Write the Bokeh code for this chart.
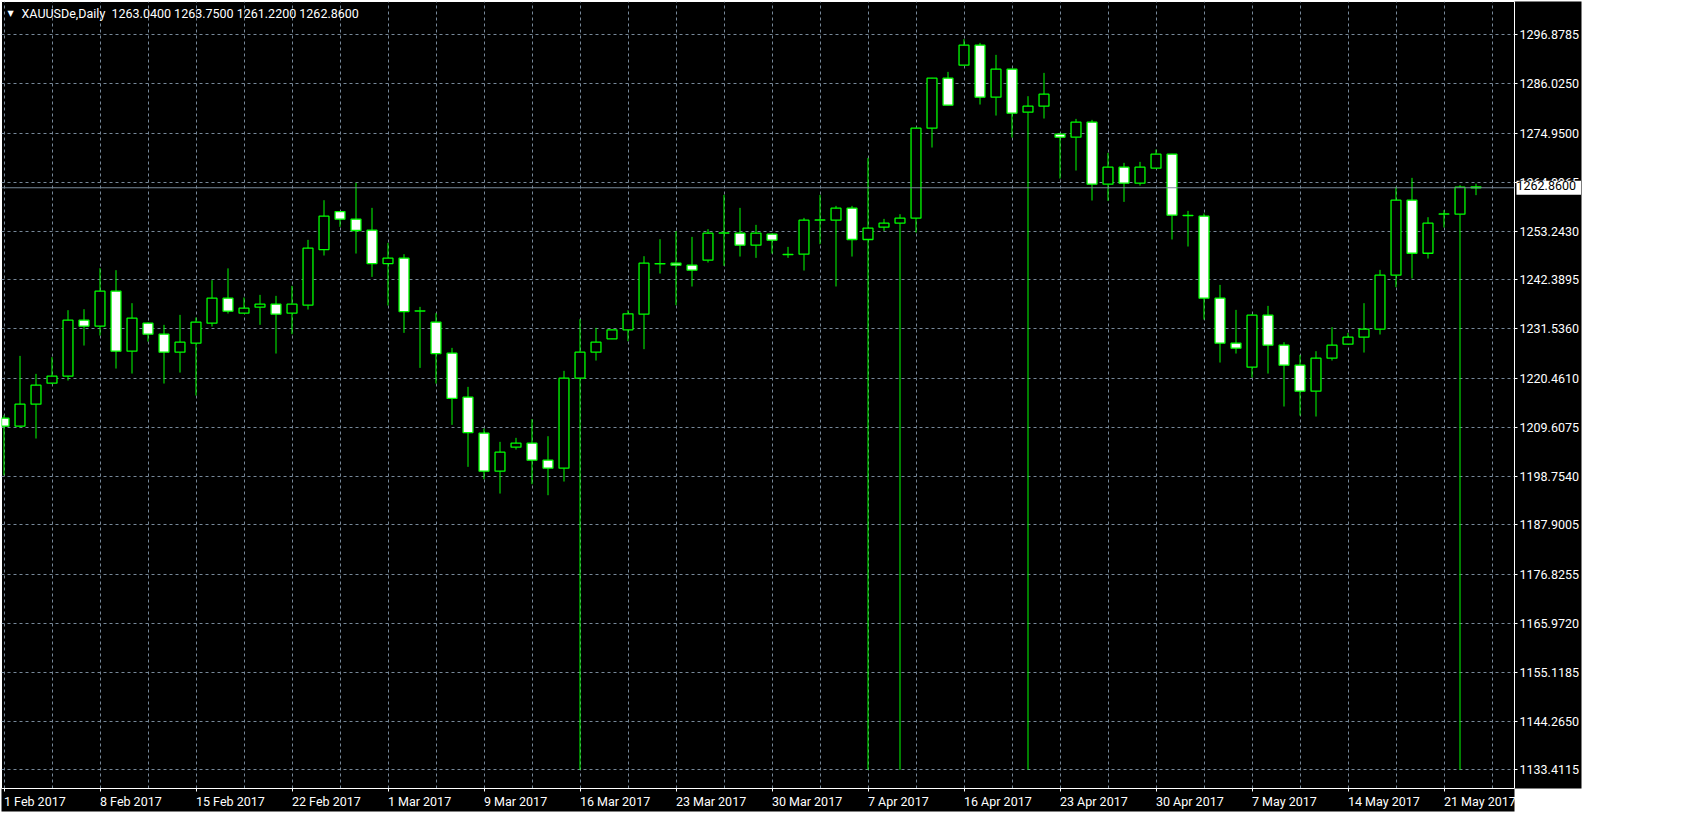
from bokeh.plotting import figure
from bokeh.models import (Range1d, FixedTicker, PrintfTickFormatter,
                          Span, Label, ColumnDataSource)
from bokeh.embed import file_html
from bokeh.resources import INLINE

# ---------------- data (XAUUSDe, Daily, 6 bars per week) ----------------
opens = [1211.61, 1209.83, 1214.72, 1219.39, 1220.95, 1233.41, 1232.07, 1239.85, 1226.51, 1232.74,
         1230.29, 1226.29, 1228.29, 1232.74, 1238.30, 1234.96, 1236.30, 1236.97, 1234.96, 1236.74,
         1249.12, 1257.57, 1255.87, 1253.42, 1246.01, 1247.20, 1235.45, 1232.96, 1226.07, 1216.28,
         1208.27, 1199.82, 1205.16, 1206.05, 1202.27, 1200.49, 1220.51, 1226.29, 1229.27, 1231.27,
         1234.74, 1245.93, 1246.08, 1245.64, 1246.75, 1252.75, 1252.75, 1250.09, 1252.53, 1248.01,
         1248.08, 1255.65, 1255.65, 1258.31, 1251.35, 1254.09, 1254.98, 1256.09, 1276.11, 1287.23,
         1290.12, 1294.57, 1283.00, 1289.23, 1279.66, 1281.00, 1274.77, 1274.10, 1277.44, 1263.65,
         1267.43, 1263.87, 1267.21, 1270.32, 1256.68, 1256.53, 1238.30, 1228.29, 1222.95, 1234.52,
         1227.84, 1223.40, 1217.61, 1224.95, 1228.07, 1229.62, 1231.40, 1243.41, 1260.09, 1248.30,
         1256.98, 1256.98, 1263.04]
highs = [1212.28, 1225.47, 1221.47, 1225.18, 1235.63, 1235.85, 1244.97, 1244.53, 1237.19, 1232.90,
         1232.37, 1234.59, 1234.00, 1242.30, 1244.93, 1238.45, 1239.04, 1238.82, 1241.04, 1251.27,
         1260.09, 1257.65, 1263.95, 1258.39, 1250.60, 1248.08, 1236.37, 1234.96, 1227.25, 1218.58,
         1209.31, 1206.35, 1207.24, 1211.39, 1207.60, 1222.14, 1233.63, 1231.70, 1231.35, 1235.63,
         1247.64, 1251.42, 1253.20, 1251.94, 1253.64, 1261.28, 1258.39, 1254.61, 1252.70, 1249.71,
         1256.16, 1261.28, 1258.83, 1258.83, 1269.51, 1255.94, 1256.98, 1276.20, 1287.30, 1288.63,
         1295.90, 1295.08, 1292.42, 1289.30, 1283.22, 1288.41, 1275.07, 1278.18, 1277.96, 1270.62,
         1268.40, 1268.62, 1271.36, 1270.40, 1257.72, 1257.13, 1241.26, 1235.70, 1234.74, 1236.59,
         1228.51, 1225.69, 1226.51, 1231.85, 1230.59, 1237.19, 1244.60, 1263.06, 1265.06, 1256.31,
         1257.87, 1263.43, 1263.75]
lows = [1198.90, 1209.53, 1207.09, 1219.17, 1219.99, 1227.77, 1229.99, 1222.65, 1221.54, 1228.66,
        1219.32, 1221.76, 1216.65, 1232.00, 1234.89, 1234.90, 1232.37, 1225.99, 1230.29, 1235.78,
        1247.79, 1254.16, 1248.23, 1243.04, 1236.67, 1230.59, 1222.80, 1219.32, 1210.13, 1200.79,
        1198.04, 1194.85, 1204.64, 1196.93, 1194.48, 1197.52, 1133.41, 1224.43, 1229.20, 1228.74,
        1226.96, 1243.78, 1236.74, 1240.90, 1246.23, 1245.49, 1247.56, 1247.27, 1248.23, 1247.27,
        1244.45, 1250.31, 1240.90, 1247.56, 1133.41, 1253.27, 1133.41, 1252.90, 1271.81, 1281.20,
        1290.10, 1281.37, 1278.92, 1274.03, 1133.41, 1278.26, 1264.91, 1266.69, 1260.02, 1259.95,
        1259.72, 1263.35, 1267.20, 1251.35, 1249.79, 1233.55, 1223.99, 1225.99, 1220.65, 1221.54,
        1214.21, 1212.20, 1211.98, 1224.43, 1228.00, 1226.21, 1230.22, 1240.75, 1242.67, 1247.12,
        1254.01, 1133.41, 1261.22]
closes = [1209.83, 1214.72, 1218.95, 1220.95, 1233.41, 1232.07, 1239.85, 1226.51, 1233.85, 1230.29,
          1226.29, 1228.51, 1232.96, 1238.30, 1235.41, 1236.07, 1236.97, 1234.74, 1236.97, 1249.42,
          1256.53, 1255.87, 1253.35, 1246.01, 1247.20, 1235.33, 1235.50, 1225.99, 1216.00, 1208.42,
          1199.82, 1204.05, 1206.05, 1202.27, 1200.49, 1220.51, 1226.29, 1228.51, 1231.27, 1234.83,
          1246.08, 1246.00, 1245.64, 1244.53, 1252.75, 1252.80, 1250.09, 1252.75, 1251.20, 1248.05,
          1255.65, 1255.70, 1258.31, 1251.35, 1253.87, 1254.98, 1256.09, 1276.11, 1287.23, 1281.22,
          1294.57, 1283.00, 1289.23, 1279.44, 1281.00, 1283.67, 1274.10, 1277.44, 1263.65, 1267.43,
          1263.87, 1267.43, 1270.32, 1256.76, 1256.72, 1238.30, 1228.29, 1227.18, 1234.52, 1227.84,
          1223.40, 1217.61, 1224.95, 1227.84, 1229.62, 1231.40, 1243.41, 1260.09, 1248.30, 1254.98,
          1257.02, 1262.98, 1262.86]

# date labels, one every 6 bars (bar 0, 6, 12, ...)
date_labels = ["1 Feb 2017", "8 Feb 2017", "15 Feb 2017", "22 Feb 2017", "1 Mar 2017",
               "9 Mar 2017", "16 Mar 2017", "23 Mar 2017", "30 Mar 2017", "7 Apr 2017",
               "16 Apr 2017", "23 Apr 2017", "30 Apr 2017", "7 May 2017", "14 May 2017",
               "21 May 2017"]
label_step = 6
grid_step = 3

price_ticks = [1296.8785, 1286.0250, 1274.9500, 1264.0965, 1253.2430, 1242.3895, 1231.5360,
               1220.4610, 1209.6075, 1198.7540, 1187.9005, 1176.8255, 1165.9720, 1155.1185,
               1144.2650, 1133.4115]

symbol = "XAUUSDe,Daily"

# ---------------- styling / layout constants ----------------
FONT = "Roboto"
FS_PX = 12.5
FS = f"{FS_PX}px"
GREEN = "#00ff00"
GRID = "#778899"

BL, BT, BB = 1, 1, 25
FRAME_W, FRAME_H = 1513, 787
px_per_bar = 16.0
px_per_unit = 4.4964

x0 = -(3.5 - BL) / px_per_bar
x1 = x0 + FRAME_W / px_per_bar
y1 = 1296.8785 + (34.3 - BT) / px_per_unit
y0 = y1 - FRAME_H / px_per_unit


def dx(abs_x):
    return x0 + (abs_x - BL) / px_per_bar


def dy(abs_y):
    return y1 - (abs_y - BT) / px_per_unit


# approximate Roboto advance widths (units per 2048 em) to left-align date labels
ADV = {" ": 507, "F": 1117, "e": 1084, "b": 1147, "M": 1762, "a": 1114, "r": 692,
       "A": 1336, "p": 1147, "y": 969}


def text_w(s):
    return sum(ADV.get(ch, 1150) for ch in s) * FS_PX / 2048.0


n = len(opens)
xs = list(range(n))
tops = [max(o, c) for o, c in zip(opens, closes)]
bots = [min(o, c) for o, c in zip(opens, closes)]
fills = ["black" if c >= o else "white" for o, c in zip(opens, closes)]

src = ColumnDataSource(dict(x=xs, o=opens, h=highs, l=lows, c=closes,
                            top=tops, bottom=bots, fill=fills))

p = figure(frame_width=FRAME_W, frame_height=FRAME_H, output_backend="svg",
           toolbar_location=None,
           x_range=Range1d(x0, x1), y_range=Range1d(y0, y1),
           x_axis_location="below", y_axis_location="right",
           min_border_left=BL, min_border_top=BT, min_border_right=0,
           min_border_bottom=BB)
p.background_fill_color = "black"
p.outline_line_color = "white"
p.outline_line_width = 1

# grid
p.xgrid.ticker = FixedTicker(ticks=list(range(0, int(x1) + 1, grid_step)))
p.xgrid.grid_line_color = GRID
p.xgrid.grid_line_dash = "3 3"
p.ygrid.grid_line_color = GRID
p.ygrid.grid_line_dash = "3 3"

# x axis: tick marks (minor) at the labelled bars, label text starting at its tick
tick_pos = [i * label_step for i in range(len(date_labels))]
label_pos = [t + text_w(s) / 2.0 / px_per_bar for t, s in zip(tick_pos, date_labels)]
xa = p.xaxis[0]
xa.ticker = FixedTicker(ticks=label_pos, minor_ticks=tick_pos)
xa.major_label_overrides = {lp: s for lp, s in zip(label_pos, date_labels)}
xa.major_tick_line_color = None
xa.minor_tick_line_color = "white"
xa.minor_tick_in = 0
xa.minor_tick_out = 3
xa.major_tick_in = 0
xa.major_tick_out = 3
xa.major_label_standoff = 2

# y axis
ya = p.yaxis[0]
ya.ticker = FixedTicker(ticks=price_ticks, minor_ticks=[])
ya.formatter = PrintfTickFormatter(format="%.4f")
ya.major_tick_line_color = "white"
ya.minor_tick_line_color = None
ya.major_tick_in = 0
ya.major_tick_out = 3
ya.major_label_standoff = 2

for ax in (xa, ya):
    ax.axis_line_color = "white"
    ax.major_label_text_color = "white"
    ax.major_label_text_font = FONT
    ax.major_label_text_font_size = FS

# black axis panels on a white page; fall back to a black border if unsupported
try:
    xa.background_fill_color = "black"
    ya.background_fill_color = "black"
    p.border_fill_color = "white"
except Exception:
    p.border_fill_color = "black"

# current price line
last = closes[-1]
p.add_layout(Span(location=last, dimension="width", line_color=GRID, line_width=1))

# candles
p.segment(x0="x", y0="h", x1="x", y1="l", source=src, line_color=GREEN, line_width=1)
p.vbar(x="x", top="top", bottom="bottom", width=0.62, source=src,
       fill_color="fill", line_color=GREEN, line_width=1.3)

# current price box on the right axis
p.add_layout(Label(x=dx(1516), y=last, text=f"{last:.4f}", text_color="black",
                   text_font=FONT, text_font_size=FS, text_baseline="middle",
                   text_align="left", background_fill_color="white",
                   padding=(0, 5, 0, 5)), "right")

# header
p.add_layout(Label(x=dx(7), y=dy(12.5), text="\u25bc", text_color="white",
                   text_font="DejaVu Sans", text_font_size="8px", text_baseline="middle",
                   text_align="left"))
p.add_layout(Label(x=dx(21), y=dy(12.5),
                   text=f"{symbol} \u00a0{opens[-1]:.4f} {highs[-1]:.4f} {lows[-1]:.4f} {closes[-1]:.4f}",
                   text_color="white", text_font=FONT, text_font_size=FS,
                   text_baseline="middle", text_align="left"))

open("out.html", "w").write(file_html(p, INLINE))
